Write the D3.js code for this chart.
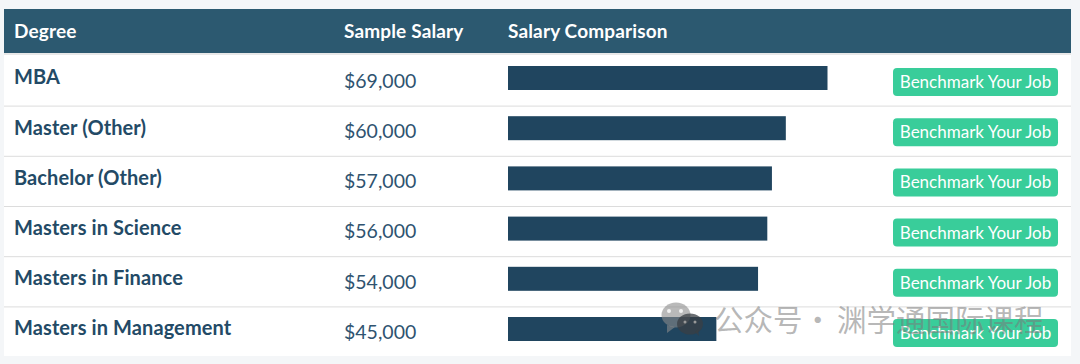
<!DOCTYPE html>
<html>
<head>
<meta charset="utf-8">
<script src="https://cdn.jsdelivr.net/npm/d3@7"></script>
<style>
html, body { margin: 0; padding: 0; background: #f4f6f8; overflow: hidden; }
svg { display: block; }
text { font-family: Lato, "Noto Sans", sans-serif; }
.head { fill: #fff; font-size: 19px; font-weight: 700; letter-spacing: .15px; }
.degree { fill: #234a66; font-size: 20px; font-weight: 700; letter-spacing: .1px; }
.salary { fill: #2f5370; font-size: 19.5px; }
.btn-label { fill: #fff; font-size: 17px; }
.mark-text { font-family: "Noto Sans CJK SC", sans-serif; font-size: 29.5px; fill: #7a7a7a; fill-opacity: .55; }
</style>
</head>
<body>
<svg id="chart" width="1080" height="364"></svg>
<script>
const degrees = ['MBA', 'Master (Other)', 'Bachelor (Other)', 'Masters in Science', 'Masters in Finance', 'Masters in Management']
const salaries = [69000, 60000, 57000, 56000, 54000, 45000]
const headers = ['Degree', 'Sample Salary', 'Salary Comparison']
const buttonLabel = 'Benchmark Your Job'
const watermarkParts = ['公众号', '·', '渊学通国际课程']

const tableLeft = 4
const tableRight = 1071
const headTop = 9
const headBottom = 53
const tableBottom = 356
const rowHeight = 50.2
const colX = [14, 344, 508]

const svg = d3.select('#chart')
const money = d => '$' + d3.format(',')(d)

const x = d3.scaleLinear().domain([0, 69000]).range([508, 827.5])
const y = d3.scaleBand()
    .domain(degrees)
    .range([55.4, 55.4 + rowHeight * degrees.length])

svg.append('rect')
    .attr('x', tableLeft).attr('y', headTop)
    .attr('width', tableRight - tableLeft).attr('height', tableBottom - headTop)
    .attr('fill', '#fff')

svg.append('rect')
    .attr('x', tableLeft).attr('y', headTop)
    .attr('width', tableRight - tableLeft).attr('height', headBottom - headTop)
    .attr('fill', '#2c5970')

svg.append('rect')
    .attr('x', tableLeft).attr('y', headBottom)
    .attr('width', tableRight - tableLeft).attr('height', 2)
    .attr('fill', '#e8e8e8')

svg.selectAll('.head')
    .data(headers)
    .enter().append('text')
    .attr('class', 'head')
    .attr('x', (d, i) => colX[i])
    .attr('y', 38)
    .text(d => d)

const rows = svg.selectAll('.row')
    .data(degrees.map((name, i) => ({name, salary: salaries[i]})))
    .enter().append('g')
    .attr('class', 'row')
    .attr('transform', d => `translate(0,${y(d.name)})`)

rows.filter((d, i) => i > 0).append('line')
    .attr('x1', tableLeft).attr('x2', tableRight)
    .attr('y1', 0.5).attr('y2', 0.5)
    .attr('stroke', '#dcdcdc')

rows.append('text')
    .attr('class', 'degree')
    .attr('x', colX[0])
    .attr('y', 29)
    .text(d => d.name)

rows.append('text')
    .attr('class', 'salary')
    .attr('x', colX[1])
    .attr('y', 32.4)
    .text(d => money(d.salary))

rows.append('rect')
    .attr('x', x(0))
    .attr('y', 10.6)
    .attr('width', d => x(d.salary) - x(0))
    .attr('height', 24)
    .attr('fill', '#20455f')

rows.append('rect')
    .attr('x', 893)
    .attr('y', 12.6)
    .attr('width', 165)
    .attr('height', 28)
    .attr('rx', 4)
    .attr('fill', '#39cd9a')

rows.append('text')
    .attr('class', 'btn-label')
    .attr('x', 975.5)
    .attr('y', 32.5)
    .attr('text-anchor', 'middle')
    .text(buttonLabel)

// watermark on top of everything
const wm = svg.append('g')
wm.append('ellipse').attr('cx', 676).attr('cy', 315).attr('rx', 14.5).attr('ry', 12.5)
    .attr('fill', '#8a8a8a').attr('fill-opacity', .6)
wm.append('path').attr('d', 'M667 325 L667 333 L675 327 Z')
    .attr('fill', '#8a8a8a').attr('fill-opacity', .6)
wm.append('ellipse').attr('cx', 690).attr('cy', 324).attr('rx', 13).attr('ry', 10.5)
    .attr('fill', '#3a3f44').attr('fill-opacity', .75)
wm.append('path').attr('d', 'M695 332 L699 336 L698 329 Z')
    .attr('fill', '#3a3f44').attr('fill-opacity', .75)
wm.selectAll('.eye')
    .data([[669, 311], [681, 311]])
    .enter().append('circle')
    .attr('cx', d => d[0]).attr('cy', d => d[1]).attr('r', 2).attr('fill', '#fff').attr('fill-opacity', .8)
wm.selectAll('.eye2')
    .data([[685, 322], [695, 322]])
    .enter().append('circle')
    .attr('cx', d => d[0]).attr('cy', d => d[1]).attr('r', 1.5).attr('fill', '#999')
wm.selectAll('.mark-text')
    .data(watermarkParts)
    .enter().append('text')
    .attr('class', 'mark-text')
    .attr('x', (d, i) => [714, 803, 837][i])
    .attr('y', 331)
    .text(d => d)
</script>
</body>
</html>
